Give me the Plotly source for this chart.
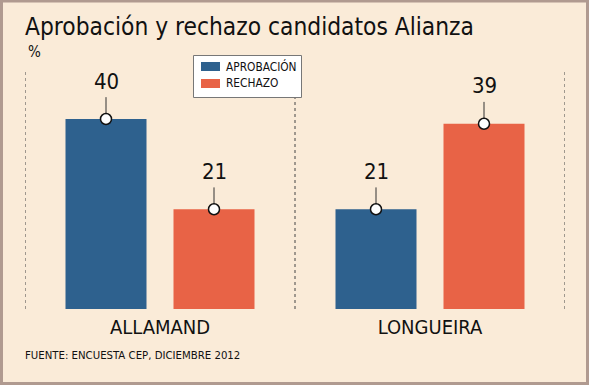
import plotly.graph_objects as go

categories = ["ALLAMAND", "LONGUEIRA"]
series_names = ["APROBACIÓN", "RECHAZO"]
aprobacion = [40, 21]
rechazo = [21, 39]
colors = ["#2E618E", "#E86346"]

FONT = "DejaVu Sans Condensed"
W, H = 589, 385
ML, MR, MT, MB = 25, 24, 60, 76
ymax = (H - MB - MT) / 4.75
pw = W - ML - MR
ph = H - MT - MB


def px_x(v):
    return (v - ML) / pw


def px_y(v):
    return (H - MB - v) / ph


fig = go.Figure()
series_vals = [aprobacion, rechazo]
slot = 0.4
bw = 0.3
for j, (name, vals) in enumerate(zip(series_names, series_vals)):
    xs = [i + (j - 0.5) * slot for i in range(len(categories))]
    fig.add_trace(go.Bar(x=xs, y=vals, name=name, width=bw, showlegend=False,
                         marker=dict(color=colors[j], line=dict(width=0))))
    for x, v in zip(xs, vals):
        fig.add_trace(go.Scatter(x=[x, x], y=[v, v + 4.6], mode="lines",
                                 line=dict(color="#333333", width=1),
                                 showlegend=False, hoverinfo="skip"))
        fig.add_annotation(x=x, y=v, text=str(v), showarrow=False,
                           yshift=38, font=dict(family=FONT, size=22, color="#111111"))
    fig.add_trace(go.Scatter(x=xs, y=vals, mode="markers",
                             marker=dict(color="white", size=11,
                                         line=dict(color="#111111", width=1.5)),
                             showlegend=False, hoverinfo="skip"))

# dashed separators
for xb in [-0.5, 0.5, 1.5]:
    fig.add_shape(type="line", x0=xb, x1=xb, y0=0, y1=50.3, xref="x", yref="y",
                  line=dict(color="#444444", width=1, dash="dot"), layer="below")

# outer frame
fig.add_shape(type="rect", xref="paper", yref="paper",
              x0=px_x(1.5), x1=px_x(W - 1.5), y0=px_y(H - 1.5), y1=px_y(1),
              line=dict(color="#B09A90", width=3))

# legend box
fig.add_shape(type="rect", xref="paper", yref="paper",
              x0=px_x(193.5), x1=px_x(301.5), y0=px_y(97.5), y1=px_y(55.5),
              fillcolor="white", line=dict(color="#777777", width=1))
for j, name in enumerate(series_names):
    yc = 66.5 + j * 17
    fig.add_shape(type="rect", xref="paper", yref="paper",
                  x0=px_x(201), x1=px_x(220), y0=px_y(yc + 4.5), y1=px_y(yc - 4.5),
                  fillcolor=colors[j], line=dict(width=0))
    fig.add_annotation(xref="paper", yref="paper", x=px_x(224), y=px_y(yc),
                       text=name, showarrow=False, xanchor="left", yanchor="middle",
                       font=dict(family=FONT, size=11.8, color="#111111"))

fig.add_annotation(xref="paper", yref="paper", x=px_x(26), y=px_y(52),
                   text="%", showarrow=False, xanchor="left", yanchor="middle",
                   font=dict(family=FONT, size=15, color="#111111"))
fig.add_annotation(xref="paper", yref="paper", x=px_x(23), y=px_y(355),
                   text="FUENTE: ENCUESTA CEP, DICIEMBRE 2012", showarrow=False,
                   xanchor="left", yanchor="middle",
                   font=dict(family=FONT, size=11.3, color="#111111"))

fig.update_layout(
    width=W, height=H,
    margin=dict(l=ML, r=MR, t=MT, b=MB),
    paper_bgcolor="#FAEBD8", plot_bgcolor="#FAEBD8",
    title=dict(text="Aprobación y rechazo candidatos Alianza", x=25 / W, xanchor="left",
               xref="container", y=1 - 26 / H, yanchor="middle", yref="container",
               font=dict(family=FONT, size=24.3, color="#111111")),
    showlegend=False,
    xaxis=dict(range=[-0.5, 1.5], tickvals=list(range(len(categories))), ticktext=categories,
               showgrid=False, zeroline=False, showline=False, ticks="",
               tickfont=dict(family=FONT, size=20, color="#111111"), ticklabelstandoff=4,
               fixedrange=True),
    yaxis=dict(range=[0, ymax], visible=False, fixedrange=True),
)

fig.write_html("out.html", config={"displayModeBar": False},
               post_script="document.body.style.margin='0';document.body.style.padding='0';")
